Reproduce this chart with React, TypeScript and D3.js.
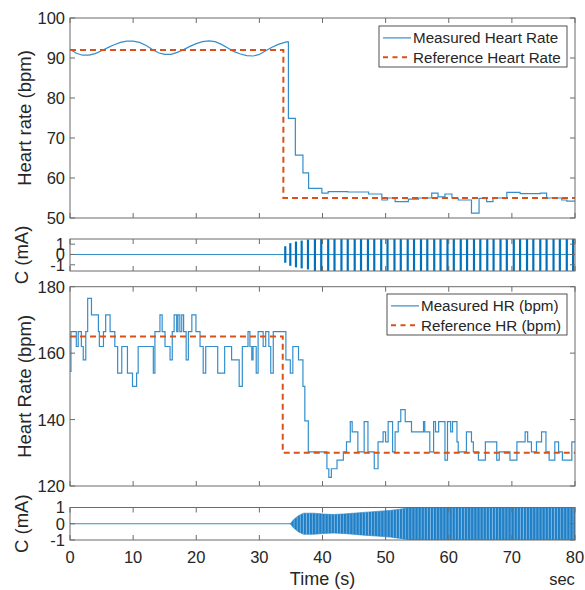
import React from 'react';
import * as d3 from 'd3';

// ---------- data ----------
const xTicks = [0, 10, 20, 30, 40, 50, 60, 70, 80];
const yTicksHR1 = [50, 60, 70, 80, 90, 100];
const yTicksC = [-1, 0, 1];
const yTicksHR2 = [120, 140, 160, 180];

// Panel 1: measured heart rate (smooth part, then stepped part)
const measured1Wave: [number, number][] = [
  [0, 92.2], [1, 91.2], [2, 90.7], [3, 90.7], [4, 91.1], [5, 91.8], [6, 92.6], [7, 93.3],
  [8, 93.9], [9, 94.2], [10, 94.2], [11, 93.9], [12, 93.2], [13, 92.2], [14, 91.3], [15, 90.9],
  [16, 90.9], [17, 91.4], [18, 92.1], [19, 92.9], [20, 93.6], [21, 94.1], [22, 94.3], [23, 94.1],
  [24, 93.4], [25, 92.5], [26, 91.6], [27, 91.0], [28, 90.6], [29, 90.5], [30, 90.9], [31, 91.8],
  [32, 92.7], [33, 93.4], [34, 93.9], [34.6, 94.1],
];
const measured1Steps: [number, number][] = [
  [34.6, 74.9], [35.7, 65.7], [36.9, 61.3], [37.8, 57.4], [39.9, 56.2], [40.9, 56.6], [44, 56.5],
  [47.3, 56.0], [49.4, 54.5], [50.3, 55.0], [51.5, 54.1], [53.6, 54.7], [55.2, 55.0], [57.3, 56.2],
  [58.3, 55.3], [59.4, 56.0], [60.5, 55.0], [61.5, 54.5], [63.6, 51.2], [64.8, 54.9], [66.0, 54.1],
  [67.0, 55.0], [69.2, 56.4], [71.3, 56.1], [74.5, 56.2], [75.5, 55.0], [77.9, 54.5], [78.7, 54.2],
  [80, 54.2],
];
const reference1: [number, number][] = [[0, 92], [33.8, 55], [80, 55]];

// Panel 2: stimulation current pulses
const pulses1Times = [
  34.1, 34.9, 35.8, 36.7, 37.7, 38.8, 39.8, 40.9, 41.9, 43.0, 44.0, 45.1, 46.1, 47.2, 48.2,
  49.3, 50.3, 51.4, 52.4, 53.5, 54.5, 55.6, 56.6, 57.7, 58.7, 59.8, 60.8, 61.9, 62.9, 64.0,
  65.0, 66.1, 67.1, 68.2, 69.2, 70.3, 71.3, 72.4, 73.4, 74.5, 75.5, 76.6, 77.6, 78.7, 79.7,
];
const pulses1Amp = [
  0.8, 1.1, 1.25, 1.35, 1.45, 1.6, 1.6, 1.6, 1.6, 1.6, 1.6, 1.6, 1.6, 1.6, 1.6,
  1.6, 1.6, 1.6, 1.6, 1.6, 1.6, 1.6, 1.6, 1.6, 1.6, 1.6, 1.6, 1.6, 1.6, 1.6,
  1.6, 1.6, 1.6, 1.6, 1.6, 1.6, 1.6, 1.6, 1.6, 1.6, 1.6, 1.6, 1.6, 1.6, 1.6,
];

// Panel 3: measured HR (bpm), stepped
const measured2Steps: [number, number][] = [
  [0, 154.5], [0.15, 166.5], [1.0, 162], [1.3, 166.5], [1.8, 162], [2.1, 158], [2.5, 166.5],
  [2.8, 176.5], [3.4, 171.5], [4.5, 166.5], [4.65, 162], [5.3, 166.5], [5.65, 171.5], [6.35, 166.5],
  [7.1, 162], [7.55, 154], [8.2, 162], [9.1, 154], [9.9, 150], [10.55, 154], [10.8, 162],
  [13.2, 154], [13.45, 166.5], [14.25, 171.5], [14.6, 166.5], [15.05, 162], [15.85, 158],
  [16.2, 166.5], [16.5, 171.5], [16.9, 166.5], [17.1, 171.5], [17.4, 166.5], [17.7, 171.5],
  [18.0, 166.5], [18.4, 158], [18.75, 166.5], [19.3, 171.5], [19.95, 166.5], [20.6, 162],
  [21.1, 154], [21.5, 162], [23.4, 154], [24.5, 162], [25.6, 158], [26.8, 150], [27.3, 162],
  [28.2, 166.5], [28.5, 162], [28.8, 158], [29.0, 162], [29.5, 154], [29.8, 166.5], [30.6, 162],
  [31.0, 166.5], [31.5, 162], [31.8, 154], [32.2, 166.5], [34.2, 158], [34.9, 154], [35.3, 162],
  [36.2, 158], [36.9, 150], [37.2, 139.6], [37.75, 130.3], [40.7, 125.2], [41.0, 122.6],
  [41.4, 125.2], [42.3, 127.8], [43.3, 130.3], [43.8, 133.3], [44.4, 139.4], [44.7, 136.3],
  [45.6, 130.3], [46.6, 139.4], [47.2, 130.3], [48.2, 125.2], [48.8, 133.3], [49.6, 136.3],
  [50.0, 133.3], [50.4, 139.4], [51.1, 130.3], [51.5, 136.3], [52.0, 139.4], [52.4, 143],
  [53.1, 139.4], [54.1, 136.3], [56.0, 139.4], [56.2, 136.3], [57.0, 130.3], [57.6, 139.4],
  [57.9, 136.3], [58.4, 139.4], [59.4, 127.8], [59.8, 139.4], [60.3, 136.3], [60.6, 139.4],
  [61.3, 133.3], [61.5, 130.3], [62.8, 136.3], [63.6, 133.3], [63.9, 130.3], [64.7, 127.8],
  [65.8, 133.3], [67.6, 127.8], [68.0, 130.3], [69.7, 127.8], [70.8, 133.3], [72.1, 136.3],
  [72.5, 133.3], [73.1, 130.3], [73.9, 133.3], [74.7, 136.3], [75.4, 130.3], [75.9, 127.8],
  [76.8, 133.3], [77.4, 130.3], [78.0, 127.8], [79.5, 133.3], [80, 133.3],
];
const reference2: [number, number][] = [[0, 165], [33.7, 130], [80, 130]];

// Panel 4: stimulation current envelope
const envelope2: [number, number][] = [
  [34.9, 0], [35.4, 0.25], [36.2, 0.5], [37.0, 0.65], [38.6, 0.65], [40.1, 0.6], [41.7, 0.57],
  [43.3, 0.6], [44.9, 0.65], [46.5, 0.7], [48.6, 0.76], [50.7, 0.82], [52.3, 0.9], [53.6, 0.98],
  [54.1, 1.0], [80, 1.0],
];

// ---------- style ----------
const FONT = "'Liberation Sans', Arial, Helvetica, sans-serif";
const TXT = '#262626';
const AX = '#6b6b6b';
const BLUE = '#0072BD';
const ORANGE = '#D95319';

const x = d3.scaleLinear().domain([0, 80]).range([70, 575]);

type PanelProps = {
  y: d3.ScaleLinear<number, number>;
  ticks: number[];
  id: string;
  children?: React.ReactNode;
  xLabels?: boolean;
};

function Panel({ y, ticks, id, children, xLabels }: PanelProps) {
  const [y0, y1] = y.range();
  const top = Math.min(y0, y1);
  const bot = Math.max(y0, y1);
  const L = x.range()[0];
  const R = x.range()[1];
  const tl = 5;
  return (
    <g>
      <clipPath id={id}>
        <rect x={L} y={top} width={R - L} height={bot - top} />
      </clipPath>
      <rect x={L} y={top} width={R - L} height={bot - top} fill="#fff" />
      <g clipPath={`url(#${id})`}>{children}</g>
      {xTicks.map((t) => (
        <g key={'xt' + t}>
          <line x1={x(t)} x2={x(t)} y1={bot} y2={bot - tl} stroke={AX} strokeWidth={1} />
          <line x1={x(t)} x2={x(t)} y1={top} y2={top + tl} stroke={AX} strokeWidth={1} />
        </g>
      ))}
      {ticks.map((t) => (
        <g key={'yt' + t}>
          <line x1={L} x2={L + tl} y1={y(t)} y2={y(t)} stroke={AX} strokeWidth={1} />
          <line x1={R} x2={R - tl} y1={y(t)} y2={y(t)} stroke={AX} strokeWidth={1} />
          <text x={L - 5} y={y(t)} dy="0.36em" textAnchor="end" fontSize={16.5} fill={TXT} fontFamily={FONT}>
            {String(t)}
          </text>
        </g>
      ))}
      <rect x={L} y={top} width={R - L} height={bot - top} fill="none" stroke={AX} strokeWidth={1} />
      {xLabels &&
        xTicks.map((t) => (
          <text key={'xl' + t} x={x(t)} y={bot + 23} textAnchor="middle" fontSize={16.5} fill={TXT} fontFamily={FONT}>
            {String(t)}
          </text>
        ))}
    </g>
  );
}

function Legend({ x0, y0, w, h, labels }: { x0: number; y0: number; w: number; h: number; labels: string[] }) {
  const rows = [y0 + h * 0.29, y0 + h * 0.76];
  return (
    <g>
      <rect x={x0} y={y0} width={w} height={h} fill="#fff" stroke={TXT} strokeWidth={0.8} />
      <line x1={x0 + 4} x2={x0 + 32} y1={rows[0]} y2={rows[0]} stroke={BLUE} strokeWidth={1.2} opacity={0.8} />
      <line x1={x0 + 4} x2={x0 + 32} y1={rows[1]} y2={rows[1]} stroke={ORANGE} strokeWidth={2} strokeDasharray="5,4.5" />
      {labels.map((lab, i) => (
        <text key={lab} x={x0 + 34} y={rows[i]} dy="0.36em" fontSize={15.2} fill={TXT} fontFamily={FONT}>
          {lab}
        </text>
      ))}
    </g>
  );
}

export default function App() {
  const y1 = d3.scaleLinear().domain([50, 100]).range([218, 18]);
  const yC1 = d3.scaleLinear().domain([-1.6, 1.5]).range([271, 239]);
  const y3 = d3.scaleLinear().domain([120, 180]).range([486, 286.7]);
  const yC2 = d3.scaleLinear().domain([-1, 1]).range([540, 507.5]);

  const lineLin = (ys: d3.ScaleLinear<number, number>) =>
    d3.line<[number, number]>().x((d) => x(d[0])).y((d) => ys(d[1]));
  const lineStep = (ys: d3.ScaleLinear<number, number>) =>
    d3.line<[number, number]>().x((d) => x(d[0])).y((d) => ys(d[1])).curve(d3.curveStepAfter);

  const wavePath = lineLin(y1)(measured1Wave) || '';
  const step1Path = lineStep(y1)([measured1Wave[measured1Wave.length - 1], ...measured1Steps]) || '';
  const ref1Path = lineStep(y1)(reference1) || '';
  const m2Path = lineStep(y3)(measured2Steps) || '';
  const ref2Path = lineStep(y3)(reference2) || '';
  const envArea =
    d3
      .area<[number, number]>()
      .x((d) => x(d[0]))
      .y0((d) => yC2(-d[1]))
      .y1((d) => yC2(d[1]))(envelope2) || '';

  const midX = (x.range()[0] + x.range()[1]) / 2;

  return (
    <svg width={585} height={590} style={{ position: 'absolute', left: 0, top: 0, background: '#fff' }}>
      <defs>
        <pattern id="stripes" patternUnits="userSpaceOnUse" width={3.1} height={10}>
          <rect x={0} y={0} width={3.1} height={10} fill="#1f7fc6" />
          <rect x={2.2} y={0} width={0.9} height={10} fill="#7db6e2" />
        </pattern>
      </defs>
      <rect x={0} y={0} width={585} height={590} fill="#fff" />

      {/* Panel 1 */}
      <Panel y={y1} ticks={yTicksHR1} id="c1">
        <path d={wavePath} fill="none" stroke={BLUE} strokeWidth={1.2} opacity={0.8} />
        <path d={step1Path} fill="none" stroke={BLUE} strokeWidth={1.2} opacity={0.8} />
        <path d={ref1Path} fill="none" stroke={ORANGE} strokeWidth={2} strokeDasharray="6,4" />
      </Panel>
      <Legend x0={379} y0={26} w={188} h={41} labels={['Measured Heart Rate', 'Reference Heart Rate']} />

      {/* Panel 2 */}
      <Panel y={yC1} ticks={yTicksC} id="c2">
        <line x1={x(0)} x2={x(80)} y1={yC1(0)} y2={yC1(0)} stroke={BLUE} strokeWidth={1} opacity={0.8} />
        {pulses1Times.map((t, i) => (
          <line
            key={'p' + i}
            x1={x(t)}
            x2={x(t)}
            y1={yC1(pulses1Amp[i])}
            y2={yC1(-pulses1Amp[i])}
            stroke={BLUE}
            strokeWidth={2.2}
          />
        ))}
      </Panel>

      {/* Panel 3 */}
      <Panel y={y3} ticks={yTicksHR2} id="c3">
        <path d={m2Path} fill="none" stroke={BLUE} strokeWidth={1.2} opacity={0.8} />
        <path d={ref2Path} fill="none" stroke={ORANGE} strokeWidth={2} strokeDasharray="6,4" />
      </Panel>
      <Legend x0={387} y0={294} w={180} h={41} labels={['Measured HR (bpm)', 'Reference HR (bpm)']} />

      {/* Panel 4 */}
      <Panel y={yC2} ticks={yTicksC} id="c4" xLabels>
        <line x1={x(0)} x2={x(80)} y1={yC2(0)} y2={yC2(0)} stroke={BLUE} strokeWidth={1} opacity={0.8} />
        <path d={envArea} fill="url(#stripes)" stroke="#1f7fc6" strokeWidth={0.6} />
      </Panel>

      {/* axis labels */}
      <text transform={`translate(31,${(18 + 218) / 2}) rotate(-90)`} textAnchor="middle" fontSize={18.5} fill={TXT} fontFamily={FONT}>
        Heart rate (bpm)
      </text>
      <text transform={`translate(28,${(239 + 271) / 2}) rotate(-90)`} textAnchor="middle" fontSize={18.5} fill={TXT} fontFamily={FONT}>
        C (mA)
      </text>
      <text transform={`translate(31,${(286.7 + 486) / 2}) rotate(-90)`} textAnchor="middle" fontSize={18.5} fill={TXT} fontFamily={FONT}>
        Heart Rate (bpm)
      </text>
      <text transform={`translate(28,${(507.5 + 540) / 2}) rotate(-90)`} textAnchor="middle" fontSize={18.5} fill={TXT} fontFamily={FONT}>
        C (mA)
      </text>
      <text x={midX} y={585} textAnchor="middle" fontSize={18} fill={TXT} fontFamily={FONT}>
        Time (s)
      </text>
      <text x={562} y={585} textAnchor="middle" fontSize={16.5} fill={TXT} fontFamily={FONT}>
        sec
      </text>
    </svg>
  );
}
